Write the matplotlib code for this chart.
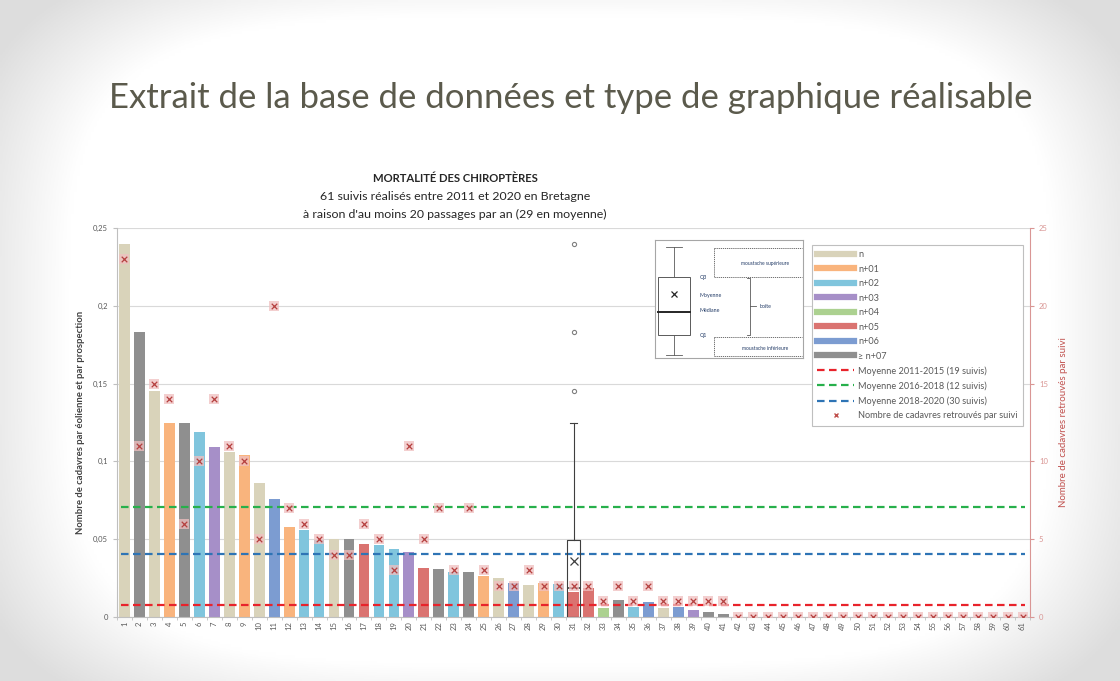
import matplotlib
matplotlib.use('Agg')
import matplotlib.pyplot as plt
import numpy as np
from matplotlib.lines import Line2D

plt.rcParams['font.family'] = ['Lato', 'DejaVu Sans']

# --- data ---
suivis = list(range(1, 62))
densite = [0.240, 0.183, 0.145, 0.125, 0.125, 0.119, 0.109, 0.106, 0.104, 0.086,
           0.0756, 0.058, 0.056, 0.0495, 0.050, 0.050, 0.0467, 0.046, 0.0437, 0.0416,
           0.0317, 0.0306, 0.029, 0.0287, 0.0266, 0.025, 0.022, 0.0206, 0.0217, 0.021,
           0.0163, 0.0188, 0.006, 0.011, 0.0062, 0.0098, 0.0056, 0.0066, 0.0045, 0.003,
           0.002] + [0.0] * 20
classe = ['n', '7', 'n', '1', '7', '2', '3', 'n', '1', 'n',
          '6', '1', '2', '2', 'n', '7', '5', '2', '2', '3',
          '5', '7', '2', '7', '1', 'n', '6', 'n', '1', '2',
          '5', '5', '4', '7', '2', '6', 'n', '6', '3', '7',
          '7'] + ['n'] * 20
cadavres = [23, 11, 15, 14, 6, 10, 14, 11, 10, 5,
            20, 7, 6, 5, 4, 4, 6, 5, 3, 11,
            5, 7, 3, 7, 3, 2, 2, 3, 2, 2,
            2, 2, 1, 2, 1, 2, 1, 1, 1, 1,
            1] + [0] * 20
moyennes = [0.0077, 0.0705, 0.0403]
moy_labels = ['Moyenne 2011-2015 (19 suivis)', 'Moyenne 2016-2018 (12 suivis)',
              'Moyenne 2018-2020 (30 suivis)']
moy_colors = ['#e8232b', '#27b04b', '#2e74b5']

classes = ['n', '1', '2', '3', '4', '5', '6', '7']
class_labels = ['n', 'n+01', 'n+02', 'n+03', 'n+04', 'n+05', 'n+06', '≥ n+07']
class_colors = {'n': '#d9d3ba', '1': '#f9b47d', '2': '#80c5dd', '3': '#a68fc8',
                '4': '#acd190', '5': '#da7370', '6': '#7c9cd1', '7': '#8f8f8f'}

W, H = 1120, 681
fig = plt.figure(figsize=(W / 100, H / 100), dpi=100)

# slide background (soft gray vignette)
bg = fig.add_axes([0, 0, 1, 1], zorder=-10)
xx, yy = np.meshgrid(np.linspace(-1, 1, 400), np.linspace(-1, 1, 250))
r = (np.abs(xx) ** 4 + np.abs(yy * 0.92) ** 4) ** 0.25
shade = 1 - 0.13 * np.clip((r - 0.88) / 0.2, 0, 1)
bg.imshow(np.dstack([shade] * 3), aspect='auto', extent=[0, 1, 0, 1])
bg.axis('off')

ax = fig.add_axes([117 / W, (H - 617) / H, (1030 - 117) / W, (617 - 228) / H])
ax.set_facecolor('none')

bar_cols = [class_colors[c] for c in classe]
ax.bar(suivis, densite, width=0.72, color=bar_cols, zorder=2)

for m, c in zip(moyennes, moy_colors):
    ax.axhline(m, xmin=0.004, xmax=0.994, color=c, lw=1.6, dashes=(3.4, 2.0), zorder=3)

ax.boxplot(densite, positions=[31], widths=0.85, whis=1.6, showmeans=True, manage_ticks=False,
           boxprops=dict(color='#3f3f3f', lw=0.8),
           whiskerprops=dict(color='#3f3f3f', lw=0.8),
           capprops=dict(color='#3f3f3f', lw=0.8),
           medianprops=dict(color='#3f3f3f', lw=1.2),
           meanprops=dict(marker='x', markeredgecolor='#3f3f3f', markersize=6, markeredgewidth=0.9),
           flierprops=dict(marker='o', markerfacecolor='none', markeredgecolor='#7f7f7f',
                           markersize=3, markeredgewidth=0.8),
           zorder=4)

ax.set_xlim(0.5, 61.5)
ax.set_ylim(0, 0.25)
ax.set_yticks([0, 0.05, 0.1, 0.15, 0.2, 0.25])
ax.set_yticklabels(['0', '0,05', '0,1', '0,15', '0,2', '0,25'])
ax.set_xticks(suivis)
ax.set_xticklabels([str(s) for s in suivis], rotation=90)
ax.set_xticks(np.arange(0.5, 62, 1), minor=True)
ax.tick_params(axis='x', which='major', length=0, labelsize=5.5, labelcolor='#595959', pad=3)
ax.tick_params(axis='x', which='minor', length=2.5, color='#bfbfbf')
ax.tick_params(axis='y', length=3, color='#bfbfbf', labelsize=5.5, labelcolor='#595959')
ax.yaxis.grid(True, color='#d9d9d9', lw=0.8)
ax.set_axisbelow(True)
for s in ['top', 'right']:
    ax.spines[s].set_visible(False)
ax.spines['left'].set_color('#bfbfbf')
ax.spines['bottom'].set_color('#bfbfbf')
ax.set_ylabel('Nombre de cadavres par éolienne et par prospection', fontsize=6.8,
              fontweight='bold', color='#404040', labelpad=6)

ax2 = ax.twinx()
ax2.set_ylim(0, 25)
ax2.set_yticks([0, 5, 10, 15, 20, 25])
ax2.tick_params(axis='y', length=3, color='#d99694', labelsize=5.5, labelcolor='#d99694')
for s in ['top', 'left', 'bottom']:
    ax2.spines[s].set_visible(False)
ax2.spines['right'].set_color('#d99694')
ax2.set_ylabel('Nombre de cadavres retrouvés par suivi', fontsize=7,
               color='#c0504d', labelpad=8)
ax2.scatter(suivis, cadavres, marker='s', s=45, color='#f0c0c0', alpha=0.75, lw=0, zorder=5)
ax2.scatter(suivis, cadavres, marker='x', s=16, color='#b5403f', lw=0.9, zorder=6)

# chart titles
fig.text(455 / W, 1 - 178 / H, 'MORTALITÉ DES CHIROPTÈRES', ha='center', va='center',
         fontsize=8.1, fontweight='bold', color='#262626')
fig.text(455 / W, 1 - 196 / H, '61 suivis réalisés entre 2011 et 2020 en Bretagne',
         ha='center', va='center', fontsize=8.9, color='#262626')
fig.text(455 / W, 1 - 214 / H, "à raison d'au moins 20 passages par an (29 en moyenne)",
         ha='center', va='center', fontsize=8.9, color='#262626')

# slide title
fig.text(571 / W, 1 - 108 / H, 'Extrait de la base de données et type de graphique réalisable',
         ha='center', va='baseline', fontsize=25, color='#5b5a4c')

# legend
handles = [Line2D([], [], color=class_colors[c], lw=4.5) for c in classes]
handles += [Line2D([], [], color=c, lw=1.6, dashes=(3.4, 2.0)) for c in moy_colors]
handles += [Line2D([], [], ls='none', marker='x', color='#c0504d', markersize=3.5)]
labels = class_labels + moy_labels + ['Nombre de cadavres retrouvés par suivi']
leg = fig.legend(handles, labels, loc='upper right', bbox_to_anchor=(1028 / W, 1 - 240 / H),
                 fontsize=6.6, labelcolor='#595959', handlelength=4.0, labelspacing=0.6,
                 borderpad=0.6, handletextpad=0.5, fancybox=False, edgecolor='#bfbfbf',
                 framealpha=1)
leg.get_frame().set_linewidth(0.8)

# box-plot explanation inset
ins = fig.add_axes([655 / W, 1 - 358 / H, (803 - 655) / W, (358 - 240) / H], zorder=5)
ins.set_xlim(655, 803)
ins.set_ylim(358, 240)
ins.set_xticks([])
ins.set_yticks([])
for s in ins.spines.values():
    s.set_color('#a6a6a6')
    s.set_linewidth(0.8)
g = '#595959'
ins.plot([674, 674], [247, 277], color=g, lw=0.6)
ins.plot([674, 674], [335, 355], color=g, lw=0.6)
ins.plot([666, 682], [247, 247], color=g, lw=0.6)
ins.plot([666, 682], [355, 355], color=g, lw=0.6)
ins.add_patch(plt.Rectangle((658, 277), 32, 58, fill=False, ec=g, lw=0.7))
ins.plot([658, 690], [311.5, 311.5], color='#262626', lw=1.4)
ins.plot([674], [294], marker='x', color='#262626', markersize=4, mew=0.9)
tc = '#1f3864'
for lab, y in [('Q3', 277), ('Moyenne', 295), ('Médiane', 311), ('Q1', 335)]:
    ins.text(700, y, lab, fontsize=3.8, color=tc, va='center')
dot = (0, (1.5, 1))
ins.plot([714, 802], [248, 248], color=g, lw=0.6, ls=dot)
ins.plot([714, 714], [248, 277], color=g, lw=0.6, ls=dot)
ins.plot([714, 802], [277, 277], color=g, lw=0.6, ls=dot)
ins.plot([714, 714], [337, 356], color=g, lw=0.6, ls=dot)
ins.plot([714, 802], [337, 337], color=g, lw=0.6, ls=dot)
ins.plot([714, 802], [356, 356], color=g, lw=0.6, ls=dot)
ins.plot([747, 750, 750, 747], [278, 278, 335, 335], color=g, lw=0.6)
ins.plot([750, 756], [306, 306], color=g, lw=0.6)
ins.text(765, 263, 'moustache supérieure', fontsize=3.5, color=tc, ha='center', va='center')
ins.text(760, 306, 'boîte', fontsize=3.8, color=tc, va='center')
ins.text(765, 348, 'moustache inférieure', fontsize=3.5, color=tc, ha='center', va='center')

fig.savefig('out.png', dpi=100)
